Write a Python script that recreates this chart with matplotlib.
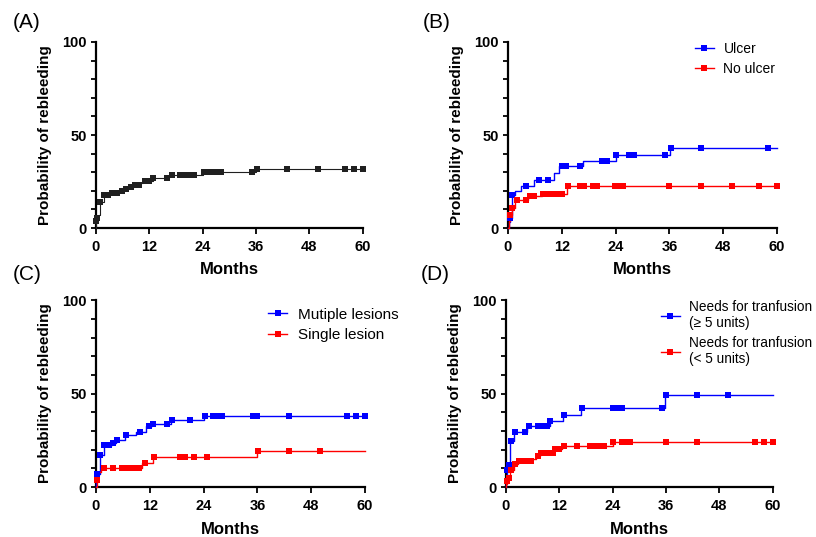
import numpy as np
import matplotlib
matplotlib.use("Agg")
from matplotlib import pyplot as plt
from matplotlib.lines import Line2D

plt.rcParams['font.family'] = ['Liberation Sans', 'DejaVu Sans']

# (A) all patients
a_t = [0, 0.05, 0.25, 0.5, 0.9, 1.7, 3.0, 5.0, 6.2, 7.2, 8.5, 9.8, 10.5, 12.8, 16.5, 24.1, 36.0]
a_y = [0, 3.5, 5.5, 7, 14, 18, 19, 20, 21, 22, 23, 24, 25.5, 27, 28.5, 30, 31.5]
a_cens = [0.1, 0.3, 0.9, 1.8, 2.8, 3.7, 4.8, 5.8, 6.7, 7.8, 8.8, 9.7, 11, 11.5, 12, 12.9,
          16, 17, 19, 20, 21, 22, 24.2, 24.8, 25.9, 27, 28.2, 35, 36.2, 43, 50, 56, 58, 60]

# (B) ulcer / no ulcer
b_labels = ['Ulcer', 'No ulcer']
b1_t = [0, 0.2, 0.4, 0.8, 1.0, 1.6, 3.0, 5.8, 10.3, 11.3, 16.8, 24.1, 36.2]
b1_y = [0, 3, 5.5, 12, 17.5, 20, 22.5, 26, 29.5, 33.5, 36, 39, 43]
b1_cens = [0.5, 1.0, 4, 7, 9, 12, 13, 16, 21, 22, 24.2, 27, 28, 35, 36.4, 43, 58]
b2_t = [0, 0.2, 0.4, 0.9, 1.5, 4.5, 7.5, 13.2]
b2_y = [0, 3.5, 7, 11, 15, 17, 18.5, 22.5]
b2_cens = [0.45, 1.0, 2.1, 4.0, 4.9, 5.8, 7.9, 9, 10, 11, 12, 13.3, 16, 17, 18.9, 19.8,
           23.9, 24.8, 25.7, 36, 43, 50, 56, 60]

# (C) multiple / single lesion
c_labels = ['Mutiple lesions', 'Single lesion']
c1_t = [0, 0.1, 0.3, 0.9, 1.8, 3.5, 4.5, 6.5, 9.0, 11.2, 12.6, 16.8, 24.2]
c1_y = [0, 4, 7, 17, 22.5, 23.5, 25, 28, 29.5, 32.5, 33.8, 36, 38]
c1_cens = [0.3, 0.9, 1.8, 3, 3.9, 4.8, 6.8, 9.8, 11.8, 12.8, 15.9, 16.9, 21, 24.3, 26,
           26.9, 28, 35, 36, 43, 56, 58, 60]
c2_t = [0, 0.2, 0.5, 1.2, 10.3, 12.8, 36.0]
c2_y = [0, 4, 8, 10, 13, 15.8, 19.5]
c2_cens = [0.3, 1.8, 3.9, 5.7, 6.8, 7.7, 8.7, 9.7, 10.9, 12.9, 18.8, 19.9, 21.9, 24.8,
           36.1, 43, 50]

# (D) transfusion >= 5 / < 5 units
d_labels = ['Needs for tranfusion\n(\u2265 5 units)', 'Needs for tranfusion\n(< 5 units)']
d1_t = [0, 0.1, 0.25, 0.5, 1.0, 1.9, 4.7, 9.9, 12.8, 16.9, 35.8]
d1_y = [0, 5, 9, 12, 24.5, 29.5, 32.5, 35.5, 38.5, 42.3, 49]
d1_cens = [0.3, 0.6, 1.2, 2.1, 4.2, 5.2, 7.2, 8.2, 9.2, 10, 13, 17.1, 24, 25, 26, 35, 36, 43, 50]
d2_t = [0, 0.1, 0.3, 0.5, 0.9, 1.9, 2.7, 5.8, 6.8, 7.7, 10.7, 12.7, 24.0]
d2_y = [0, 1.5, 3, 5, 9, 12.5, 14, 15, 16.5, 18, 20.5, 22, 24]
d2_cens = [0.3, 0.6, 1.2, 2.1, 2.9, 3.8, 4.8, 5.7, 7.2, 8, 9, 10, 10.5, 11.1, 11.9, 13, 16,
           19, 20, 21, 22, 24.1, 26, 27, 28, 36, 43, 56, 58, 60]

x_ticks = [0, 12, 24, 36, 48, 60]
MS = 3.8


def km(ax, t, y, cens, color, lw=1.0):
    t = np.array(t + [60])
    y = np.array(y + [y[-1]])
    ax.step(t, y, where='post', color=color, lw=lw, clip_on=False, zorder=3)
    idx = np.searchsorted(t, cens, side='right') - 1
    ax.plot(cens, y[idx], 's', color=color, ms=MS, mew=0, clip_on=False, zorder=4)


def style(ax):
    ax.set_xlim(0, 60)
    ax.set_ylim(0, 100)
    for s in ['top', 'right']:
        ax.spines[s].set_visible(False)
    for s in ['left', 'bottom']:
        ax.spines[s].set_linewidth(1.6)
    ax.set_xticks(x_ticks)
    ax.set_yticks([0, 50, 100])
    ax.set_yticks(np.arange(0, 101, 10), minor=True)
    ax.tick_params(axis='y', which='both', length=3.5, width=1.3, pad=3, labelsize=10.5)
    ax.tick_params(axis='x', length=4, width=1.3, pad=4.5, labelsize=10.5)
    for lb in ax.get_xticklabels() + ax.get_yticklabels():
        lb.set_fontweight('bold')
    ax.set_ylabel('Probability of rebleeding', fontsize=11, fontweight='bold')
    ax.set_xlabel('Months', fontsize=12, fontweight='bold')
    ax.yaxis.set_label_coords(-0.165, 0.5)
    ax.xaxis.set_label_coords(0.5, -0.185)


def legend(ax, labels, anchor, spacing, size, hlen):
    h = [Line2D([], [], color='blue', lw=1.0, marker='s', ms=MS, mew=0),
         Line2D([], [], color='red', lw=1.0, marker='s', ms=MS, mew=0)]
    ax.legend(h, labels, loc='upper left', bbox_to_anchor=anchor, frameon=False,
              fontsize=size, handlelength=hlen, handletextpad=0.7, labelspacing=spacing,
              borderpad=0, borderaxespad=0)


fig = plt.figure(figsize=(8.16, 5.37), dpi=100)
axA = fig.add_axes([0.1176, 0.5754, 0.327, 0.3464])
axB = fig.add_axes([0.6225, 0.5754, 0.3297, 0.3464])
axC = fig.add_axes([0.1176, 0.0931, 0.3297, 0.348])
axD = fig.add_axes([0.620, 0.0931, 0.327, 0.348])

km(axA, a_t, a_y, a_cens, '#202020', lw=0.8)
km(axB, b1_t, b1_y, b1_cens, 'blue')
km(axB, b2_t, b2_y, b2_cens, 'red')
km(axC, c1_t, c1_y, c1_cens, 'blue')
km(axC, c2_t, c2_y, c2_cens, 'red')
km(axD, d1_t, d1_y, d1_cens, 'blue')
km(axD, d2_t, d2_y, d2_cens, 'red')

for ax in [axA, axB, axC, axD]:
    style(ax)

legend(axB, b_labels, (0.695, 1.0), 0.4, 10, 1.35)
legend(axC, c_labels, (0.64, 0.96), 0.45, 11, 1.25)
legend(axD, d_labels, (0.58, 1.0), 0.4, 9.8, 1.4)

for lab, x, y in [('(A)', 0.016, 0.959), ('(B)', 0.518, 0.959),
                  ('(C)', 0.016, 0.488), ('(D)', 0.516, 0.488)]:
    fig.text(x, y, lab, fontsize=15, va='center', ha='left')

plt.savefig('out.png', dpi=100)
